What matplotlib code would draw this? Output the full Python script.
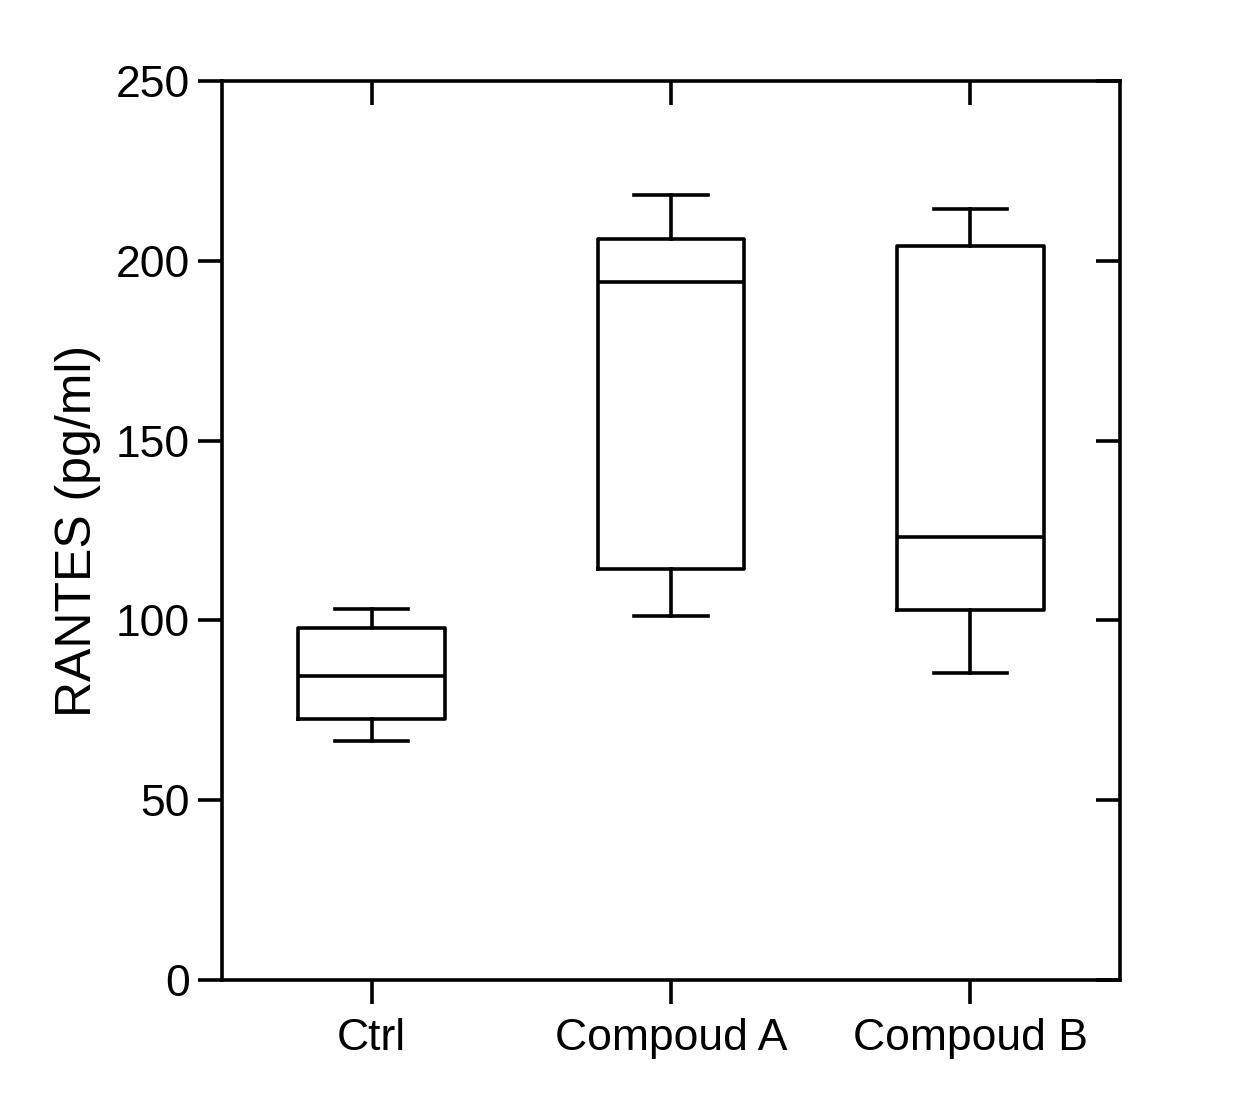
import matplotlib
matplotlib.use("Agg")
import matplotlib.pyplot as plt

plt.rcParams['font.family'] = ['Liberation Sans', 'DejaVu Sans']

# group names and box statistics (pg/ml)
groups = ['Ctrl', 'Compoud A', 'Compoud B']
whisker_low = [66.5, 101.2, 85.4]
q1 = [72.6, 114.3, 102.9]
median = [84.5, 194.1, 123.2]
q3 = [97.9, 206.1, 204.1]
whisker_high = [103.2, 218.3, 214.4]

stats = []
for i, g in enumerate(groups):
    stats.append({'label': g, 'whislo': whisker_low[i], 'q1': q1[i],
                  'med': median[i], 'q3': q3[i], 'whishi': whisker_high[i],
                  'fliers': []})

lw = 2.6
fig = plt.figure(figsize=(12.6, 11.12), dpi=100)
ax = fig.add_axes([0.1762, 0.1187, 0.7127, 0.8085])

ax.bxp(stats, positions=range(len(groups)), widths=0.49, showfliers=False,
       boxprops=dict(color='black', linewidth=lw),
       whiskerprops=dict(color='black', linewidth=lw),
       capprops=dict(color='black', linewidth=lw),
       medianprops=dict(color='black', linewidth=lw),
       capwidths=0.245)

ax.set_xlim(-0.5, 2.5)
ax.set_ylim(0, 250)
ax.set_yticks([0, 50, 100, 150, 200, 250])
ax.set_xticks(range(len(groups)))
ax.set_xticklabels(groups)

for s in ax.spines.values():
    s.set_linewidth(lw)

ax.tick_params(axis='both', which='major', length=17, width=lw, labelsize=32,
               direction='out', pad=6)
ax.tick_params(axis='x', pad=10.5)
ax.tick_params(axis='y', right=True, labelright=False)
ax.tick_params(axis='x', top=True, labeltop=False)
# ticks on the right and top side point inward
for t in ax.yaxis.get_major_ticks():
    t.tick2line.set_marker(matplotlib.lines.TICKLEFT)
for t in ax.xaxis.get_major_ticks():
    t.tick2line.set_marker(matplotlib.lines.TICKDOWN)

ax.set_ylabel('RANTES (pg/ml)', fontsize=36, labelpad=11)

fig.savefig('out.png', dpi=100)
